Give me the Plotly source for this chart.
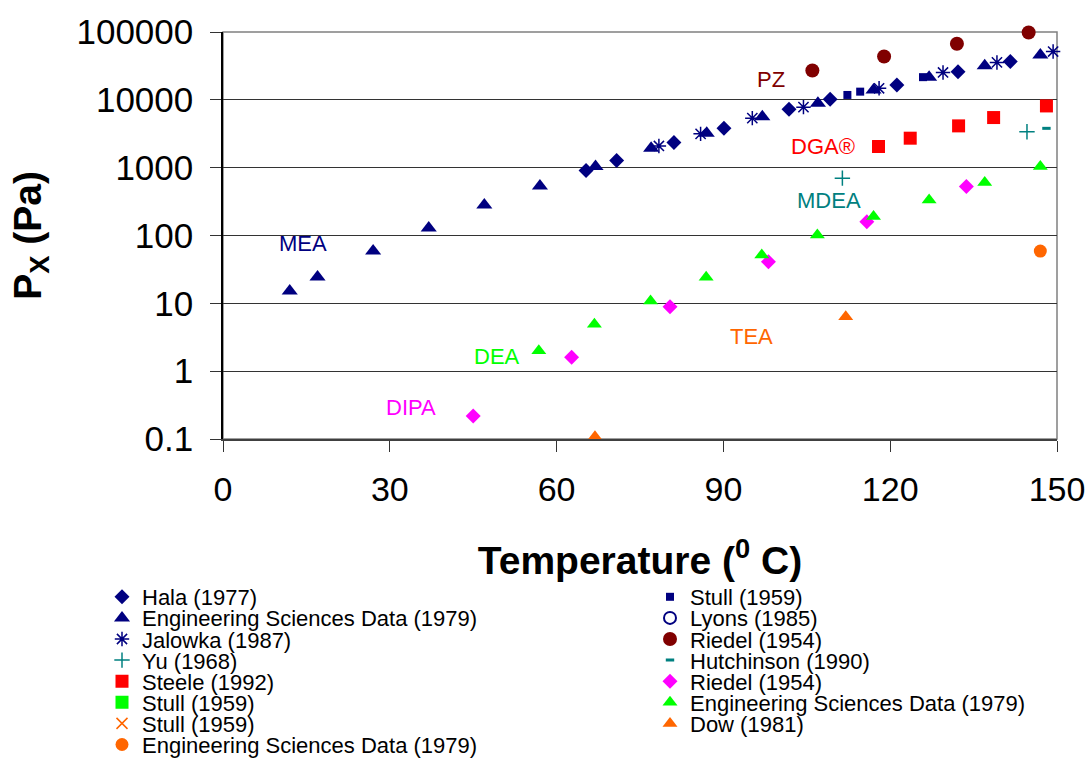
import math
import plotly.graph_objects as go

# ---------------- data ----------------
# MEA
hala_T = [65.3, 70.8, 81.1, 90.1, 101.8, 109.2, 121.2, 132.2, 141.6]
hala_P = [906, 1273, 2344, 3800, 7250, 10200, 16600, 26000, 36700]

esd_mea_T = [12, 17, 27, 37, 47, 57, 67, 77, 87, 97, 107, 117, 127, 137, 147]
esd_mea_P = [15.2, 24.5, 59, 129, 282, 537, 1037, 1940, 3230, 5650, 8900, 14000, 21600, 31800, 45800]

jalowka_T = [78.4, 85.9, 95.2, 104.4, 118.0, 129.5, 139.2, 149.3]
jalowka_P = [2090, 3150, 5370, 7800, 14800, 25300, 35600, 51500]

stull_mea_T = [112.3, 114.6, 125.9]
stull_mea_P = [11800, 13200, 21600]

lyons_T = []
lyons_P = []

# PZ
riedel_pz_T = [106.0, 118.9, 132.0, 144.9]
riedel_pz_P = [27000, 43500, 67000, 98500]

# DGA
steele_T = [117.9, 123.6, 132.3, 138.6, 148.1]
steele_P = [2050, 2720, 4130, 5480, 8130]

stull_dga_T = []
stull_dga_P = []

# MDEA
yu_T = [111.4, 144.6]
yu_P = [700, 3390]

hutchinson_T = [148.1]
hutchinson_P = [3800]

# DEA
esd_dea_T = [56.8, 66.8, 76.9, 86.9, 96.9, 106.9, 117.0, 127.0, 137.0, 147.0]
esd_dea_P = [2.0, 4.93, 10.8, 24.3, 51.6, 102, 190, 335, 603, 1038]

# DIPA
riedel_dipa_T = [45.0, 62.7, 80.4, 98.1, 115.8, 133.7]
riedel_dipa_P = [0.218, 1.6, 8.9, 41, 160, 526]

# TEA
stull_tea_T = []
stull_tea_P = []

esd_tea_T = [147.0]
esd_tea_P = [59]

dow_T = [66.9, 112.0]
dow_P = [0.108, 6.35]

y_tickvals = [0.1, 1, 10, 100, 1000, 10000, 100000]
y_ticktext = ["0.1", "1", "10", "100", "1000", "10000", "100000"]
x_tickvals = [0, 30, 60, 90, 120, 150]

amine_labels = ["MEA", "PZ", "DGA®", "MDEA", "DEA", "DIPA", "TEA"]

# ---------------- styling ----------------
NAVY = "#000080"
DARKRED = "#800000"
RED = "#FF0000"
TEAL = "#008080"
LIME = "#00FF00"
MAGENTA = "#FF00FF"
ORANGE = "#FF6600"
FONT = "Arial, 'Liberation Sans', sans-serif"

# (name, x, y, symbol, size, color, line width, column, row)
series = [
    ("Hala (1977)", hala_T, hala_P, "diamond", 11.5, NAVY, 0, 0, 0),
    ("Engineering Sciences Data (1979)", esd_mea_T, esd_mea_P, "triangle-up", 14, NAVY, 0, 0, 1),
    ("Jalowka (1987)", jalowka_T, jalowka_P, "asterisk-open", 12, NAVY, 1.5, 0, 2),
    ("Yu (1968)", yu_T, yu_P, "cross-thin-open", 11, TEAL, 1.5, 0, 3),
    ("Steele (1992)", steele_T, steele_P, "square", 13, RED, 0, 0, 4),
    ("Stull (1959)", stull_dga_T, stull_dga_P, "square", 13, LIME, 0, 0, 5),
    ("Stull (1959)", stull_tea_T, stull_tea_P, "x-thin-open", 11, ORANGE, 1.5, 0, 6),
    ("Engineering Sciences Data (1979)", esd_tea_T, esd_tea_P, "circle", 13, ORANGE, 0, 0, 7),
    ("Stull (1959)", stull_mea_T, stull_mea_P, "square", 8, NAVY, 0, 1, 0),
    ("Lyons (1985)", lyons_T, lyons_P, "circle-open", 12, NAVY, 2, 1, 1),
    ("Riedel (1954)", riedel_pz_T, riedel_pz_P, "circle", 14, DARKRED, 0, 1, 2),
    ("Hutchinson (1990)", hutchinson_T, hutchinson_P, "line-ew-open", 6, TEAL, 3, 1, 3),
    ("Riedel (1954)", riedel_dipa_T, riedel_dipa_P, "diamond", 11.5, MAGENTA, 0, 1, 4),
    ("Engineering Sciences Data (1979)", esd_dea_T, esd_dea_P, "triangle-up", 13, LIME, 0, 1, 5),
    ("Dow (1981)", dow_T, dow_P, "triangle-up", 13, ORANGE, 0, 1, 6),
]

W, H = 1091, 758
ML, MR, MT, MB = 223, 34, 32, 319
PW = W - ML - MR
PH = H - MT - MB


def px_to_paper_x(px):
    return (px - ML) / PW


def px_to_paper_y(py):
    return (H - MB - py) / PH


fig = go.Figure()
legends = {}
col_left = [102, 650]
row_top = 597
row_step = 21.1
for i, (name, xs, ys, sym, size, color, lw, col, row) in enumerate(series):
    lname = "legend" if i == 0 else "legend%d" % (i + 1)
    xs_plot = xs if len(xs) else [None]
    ys_plot = ys if len(ys) else [None]
    fig.add_trace(go.Scatter(
        x=xs_plot, y=ys_plot, mode="markers", name=name, legend=lname,
        showlegend=True,
        marker=dict(symbol=sym, size=size, color=color,
                    line=dict(width=lw, color=color)),
        cliponaxis=False,
    ))
    legends[lname] = dict(
        x=px_to_paper_x(col_left[col]), y=px_to_paper_y(row_top + row * row_step),
        xanchor="left", yanchor="middle", bgcolor="rgba(0,0,0,0)",
        borderwidth=0, font=dict(family=FONT, size=22, color="black"),
        itemwidth=30,
    )

# amine labels
label_pos = [(14.4, 75), (98.5, 19700), (108.0, 2030), (109.0, 324),
             (49.3, 1.62), (33.8, 0.296), (95.1, 3.19)]
label_col = [NAVY, DARKRED, RED, TEAL, LIME, MAGENTA, ORANGE]
annotations = []
for txt, (ax, ay), c in zip(amine_labels, label_pos, label_col):
    annotations.append(dict(x=ax, y=math.log10(ay), text=txt,
                            showarrow=False, xanchor="center", yanchor="middle",
                            font=dict(family=FONT, size=22, color=c)))

fig.update_layout(
    width=W, height=H,
    margin=dict(l=ML, r=MR, t=MT, b=MB, autoexpand=False),
    showlegend=True,
    paper_bgcolor="white", plot_bgcolor="white",
    font=dict(family=FONT, color="black"),
    annotations=annotations,
    shapes=[dict(type="rect", xref="paper", yref="paper", x0=0, x1=1, y0=0, y1=1,
                 line=dict(color="#808080", width=1.5), layer="below")],
    **legends,
)

fig.update_xaxes(
    range=[0, 150], tickvals=x_tickvals, showgrid=False, zeroline=False,
    showline=True, linecolor="#404040", linewidth=2,
    ticks="outside", ticklen=11, tickcolor="#333333", tickwidth=1,
    tickfont=dict(family=FONT, size=34, color="black"),
    ticklabelstandoff=8,
    title=dict(text="<b>Temperature (<sup>0</sup> C)</b>",
               font=dict(family=FONT, size=39, color="black"), standoff=40),
)
fig.update_yaxes(
    type="log", range=[-1, 5], tickvals=y_tickvals, ticktext=y_ticktext,
    showgrid=True, gridcolor="#333333", gridwidth=1, zeroline=False,
    showline=True, linecolor="black", linewidth=1.5,
    ticks="outside", ticklen=11, tickcolor="#333333", tickwidth=1,
    tickfont=dict(family=FONT, size=35, color="black"),
    ticklabelstandoff=10,
    title=dict(text="<b>P<sub>X</sub> (Pa)</b>",
               font=dict(family=FONT, size=39, color="black"), standoff=23),
)

fig.write_html("out.html")
